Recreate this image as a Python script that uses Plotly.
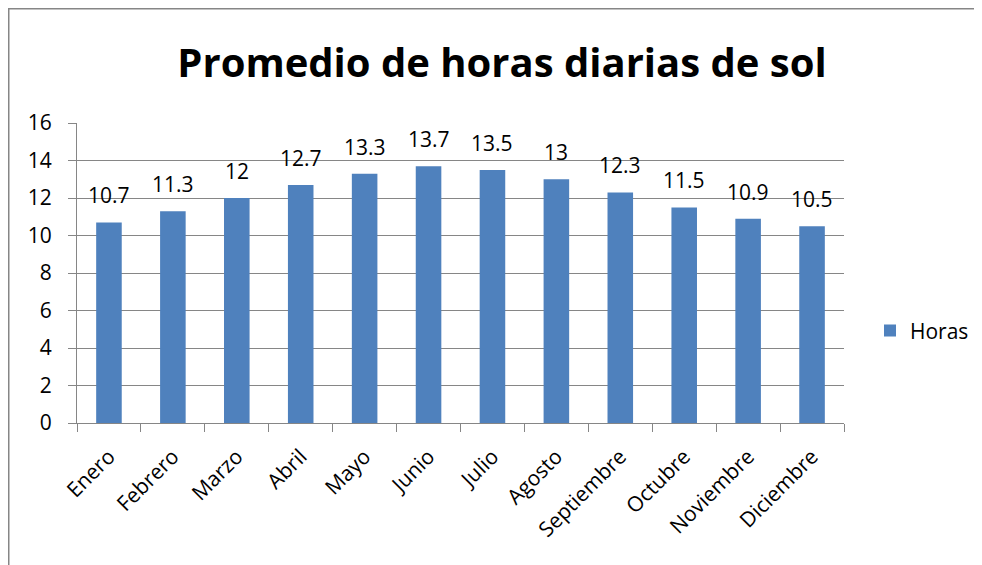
import plotly.graph_objects as go

meses = ["Enero", "Febrero", "Marzo", "Abril", "Mayo", "Junio", "Julio",
         "Agosto", "Septiembre", "Octubre", "Noviembre", "Diciembre"]
horas = [10.7, 11.3, 12, 12.7, 13.3, 13.7, 13.5, 13, 12.3, 11.5, 10.9, 10.5]
y_ticks = [0, 2, 4, 6, 8, 10, 12, 14, 16]

FONT = "Open Sans"
GRAY = "#868686"
FS = 21

# page has 8px body margin: figure drawn at (8, 8)
W, H = 974, 557
L, T = 69, 115
PW, PH = 767, 300
R = W - L - PW
B = H - T - PH

fig = go.Figure()
fig.add_trace(go.Bar(
    x=meses, y=horas, name="Horas",
    marker=dict(color="#4F81BD", line=dict(width=0)),
))

annotations = [dict(x=m, y=v, text=f"{v:g}", xref="x", yref="y",
                    showarrow=False, yanchor="middle", yshift=27,
                    font=dict(family=FONT, size=FS, color="black"))
               for m, v in zip(meses, horas)]

fig.update_layout(
    width=W, height=H,
    margin=dict(l=L, r=R, t=T, b=B, autoexpand=False),
    paper_bgcolor="white", plot_bgcolor="white",
    bargap=0.6,
    showlegend=True,
    title=dict(text="<b>Promedio de horas diarias de sol</b>",
               font=dict(family=FONT, size=40, color="black"),
               x=494 / W, xanchor="center", y=1 - 55 / H, yanchor="middle"),
    legend=dict(x=(862 - L) / PW, y=0.307, xanchor="left", yanchor="middle",
                font=dict(family=FONT, size=FS, color="black"),
                bgcolor="rgba(0,0,0,0)"),
    xaxis=dict(
        type="category", tickangle=-45, tickson="boundaries",
        ticks="outside", ticklen=8, tickcolor=GRAY, tickwidth=1,
        showline=True, linecolor=GRAY, linewidth=1,
        showgrid=False, ticklabelstandoff=12,
        tickfont=dict(family=FONT, size=FS, color="black"),
    ),
    yaxis=dict(
        range=[0, 16], tickvals=y_ticks,
        ticks="outside", ticklen=8, tickcolor=GRAY, tickwidth=1,
        showline=True, linecolor=GRAY, linewidth=1,
        showgrid=True, gridcolor=GRAY, gridwidth=1,
        zeroline=False, ticklabelstandoff=12,
        tickfont=dict(family=FONT, size=FS, color="black"),
    ),
    annotations=annotations,
    shapes=[dict(type="rect", xref="paper", yref="paper",
                 x0=(0.75 - L) / PW, x1=(970 - L) / PW,
                 y0=-1.0, y1=(T + PH - 0.75) / PH,
                 line=dict(color=GRAY, width=1.5), fillcolor="rgba(0,0,0,0)",
                 layer="below")],
)

fig.write_html("out.html")
